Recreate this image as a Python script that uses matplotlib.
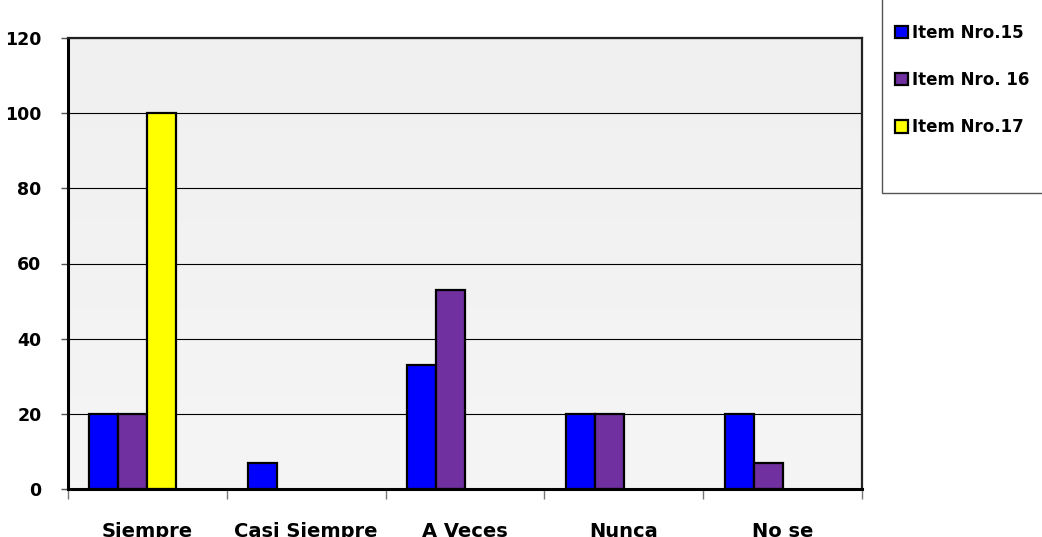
import matplotlib

matplotlib.use("Agg")
import matplotlib.pyplot as plt
import numpy as np
from matplotlib.patches import Rectangle

categories = ["Siempre", "Casi Siempre", "A Veces", "Nunca", "No se"]
series_names = ["Item Nro.15", "Item Nro. 16", "Item Nro.17"]
item15 = [20, 7, 33, 20, 20]
item16 = [20, 0, 53, 20, 7]
item17 = [100, 0, 0, 0, 0]
colors = ["#0000ff", "#7030a0", "#ffff00"]
y_ticks = [0, 20, 40, 60, 80, 100, 120]

W, H = 1042, 537
fig = plt.figure(figsize=(W / 100, H / 100), dpi=100)
fig.patch.set_facecolor("white")

# plot area in pixels: x 68..862, y 38..489
ax = fig.add_axes([68 / W, (H - 489) / H, (862 - 68) / W, (489 - 38) / H])

# light gray gradient background
grad = np.linspace(0, 1, 256).reshape(-1, 1)
ax.imshow(grad, extent=(-0.5, 4.5, 0, 120), aspect="auto", origin="lower",
          cmap=matplotlib.colors.LinearSegmentedColormap.from_list("bg", ["#f5f5f5", "#f0f0f0"]),
          zorder=0)

x = np.arange(len(categories))
bw = 29 / 159
start = -0.5 + 21.5 / 159
handles = []
for k, vals in enumerate([item15, item16, item17]):
    v = np.array(vals, dtype=float)
    v[v == 0] = np.nan  # excel draws nothing for zero values
    bars = ax.bar(x + start + k * bw, v, width=bw, align="edge", color=colors[k],
                  edgecolor="black", linewidth=1.6, zorder=3, label=series_names[k])
    handles.append(bars)

ax.set_xlim(-0.5, 4.5)
ax.set_ylim(0, 120)
ax.set_yticks(y_ticks)
ax.set_yticklabels([str(v) for v in y_ticks], fontfamily="DejaVu Sans", fontweight="bold", fontsize=12.5)
ax.yaxis.grid(True, color="black", linewidth=0.8, zorder=1)
ax.set_axisbelow(False)
ax.tick_params(axis="y", length=5, width=1.0, pad=14, color="#555555")

ax.set_xticks(np.arange(-0.5, 5, 1))
ax.set_xticklabels([])
ax.set_xticks(x, minor=True)
ax.set_xticklabels(categories, minor=True, fontfamily="DejaVu Sans", fontweight="bold", fontsize=14)
ax.tick_params(axis="x", which="major", length=7, width=1.0, color="#777777")
ax.tick_params(axis="x", which="minor", length=0, pad=24)

for side in ["left", "bottom"]:
    ax.spines[side].set_linewidth(2.2)
    ax.spines[side].set_color("black")
for side in ["top", "right"]:
    ax.spines[side].set_linewidth(1.6)
    ax.spines[side].set_color("#222222")
for sp in ax.spines.values():
    sp.set_zorder(5)

# legend frame
fig.patches.append(Rectangle((882 / W, (H - 193) / H), (1060 - 882) / W, (193 + 5) / H,
                             transform=fig.transFigure, facecolor="white",
                             edgecolor="#555555", linewidth=1.0, zorder=0))
fig.legend(handles=handles, labels=series_names, loc="upper left",
           bbox_to_anchor=(895 / W, (H - 24) / H), frameon=False,
           prop={"family": "DejaVu Sans", "weight": "bold", "size": 12},
           handlelength=0.75, handleheight=0.75, handletextpad=0.3,
           labelspacing=1.75, borderpad=0, borderaxespad=0)

fig.savefig("out.png", dpi=100, facecolor="white")
